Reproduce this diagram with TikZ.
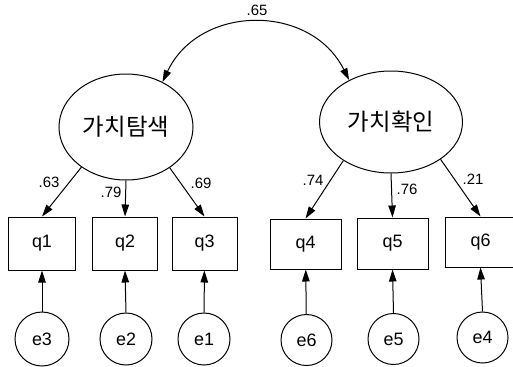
\documentclass[tikz,border=0pt]{standalone}
\usepackage{fontspec}
\setmainfont{Liberation Sans}
\newfontfamily\krfont{Noto Sans CJK KR}
\usetikzlibrary{shapes.geometric,arrows.meta}
\begin{document}
\begin{tikzpicture}[x=1bp,y=1bp,line width=1bp,
  lat/.style={draw, ellipse, inner sep=0pt, font=\krfont\fontsize{23.5}{26}\selectfont},
  obs/.style={draw, rectangle, inner sep=0pt, font=\fontsize{18}{20}\selectfont},
  err/.style={draw, circle, inner sep=0pt, font=\fontsize{18}{20}\selectfont},
  coef/.style={inner sep=0pt, font=\fontsize{15}{18}\selectfont},
  arr/.style={-{Triangle[length=12bp,width=7.5bp]}},
  darr/.style={{Triangle[length=12bp,width=7.5bp]}-{Triangle[length=12bp,width=7.5bp]}},
]
\clip (0,0) rectangle (513,366);
% latent variables
\node[lat, minimum width=134bp, minimum height=106bp] (tam) at (126,239) {가치탐색};
\node[lat, minimum width=143bp, minimum height=102bp] (hwak) at (391,244) {가치확인};
% observed
\node[obs, minimum width=66bp, minimum height=53bp] (q1) at (42,122.5) {q1};
\node[obs, minimum width=65bp, minimum height=53bp] (q2) at (125,122.5) {q2};
\node[obs, minimum width=65bp, minimum height=53bp] (q3) at (204.5,122.5) {q3};
\node[obs, minimum width=71bp, minimum height=50bp] (q4) at (305.5,122) {q4};
\node[obs, minimum width=71bp, minimum height=51bp] (q5) at (392.5,122.5) {q5};
\node[obs, minimum width=71bp, minimum height=50bp] (q6) at (480.5,124) {q6};
% errors
\node[err, minimum size=54bp] (e3) at (42,27) {e3};
\node[err, minimum size=52bp] (e2) at (126,27) {e2};
\node[err, minimum size=52bp] (e1) at (204,27) {e1};
\node[err, minimum size=51bp] (e6) at (306.5,26) {e6};
\node[err, minimum size=51bp] (e5) at (393.5,27) {e5};
\node[err, minimum size=51bp] (e4) at (482.5,28.5) {e4};
% covariance
\draw[darr] (tam.51) to[bend left=64, looseness=1.18] (hwak.135);
\node[coef] (c65) at (257,356) {.65};
% loadings
\draw[arr] (tam.222) -- (q1.north);
\draw[arr] (tam.south) -- (q2.north);
\draw[arr] (tam.-43) -- (q3.north);
\draw[arr] (hwak.219) -- (q4.north);
\draw[arr] (hwak.south) -- (q5.north);
\draw[arr] (hwak.-37) -- (q6.north);
\node[coef] (c63) at (49,184) {.63};
\node[coef] (c79) at (111,174) {.79};
\node[coef] (c69) at (201,183) {.69};
\node[coef] (c74) at (313,186) {.74};
\node[coef] (c76) at (407,177) {.76};
\node[coef] (c21) at (473,187) {.21};
% errors to observed
\draw[arr] (e3) -- (q1);
\draw[arr] (e2.north) -- (q2.south);
\draw[arr] (e1) -- (q3);
\draw[arr] (e6) -- (q4);
\draw[arr] (e5.north) -- (q5.south);
\draw[arr] (e4.north) -- (q6.south);
\end{tikzpicture}
\end{document}
